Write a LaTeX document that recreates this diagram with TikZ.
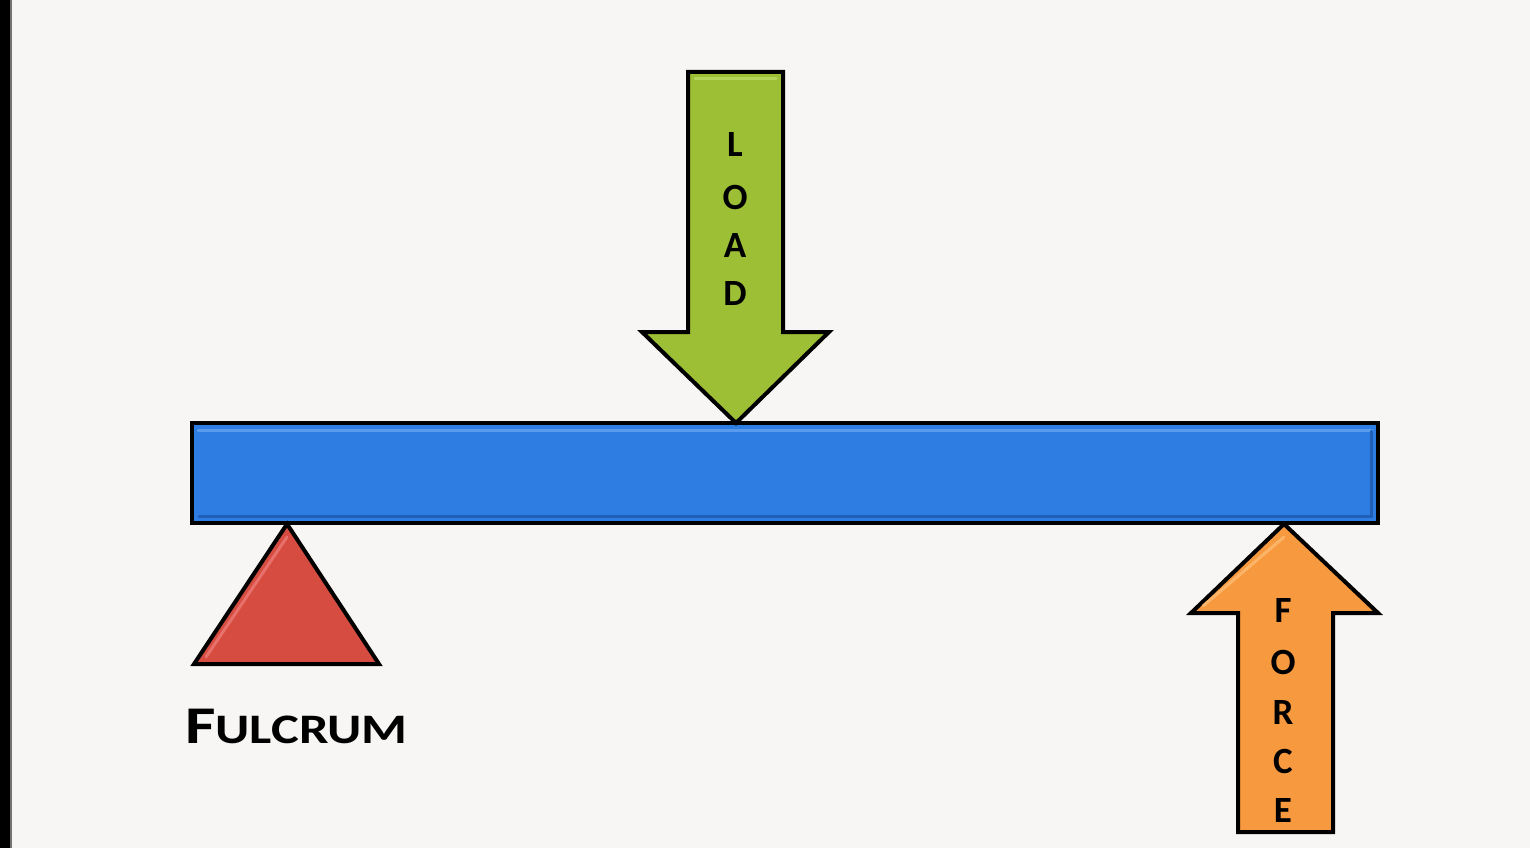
\documentclass[tikz,border=0pt]{standalone}
\usepackage{fontspec}
\setmainfont{Carlito}
\definecolor{bg}{HTML}{F7F6F4}
\definecolor{beamblue}{HTML}{2E7DE2}
\definecolor{beamlight}{HTML}{5A9BEE}
\definecolor{beamdark}{HTML}{1F5FB8}
\definecolor{loadgreen}{HTML}{9DBF35}
\definecolor{loadlight}{HTML}{B5D45A}
\definecolor{fulcred}{HTML}{D64C40}
\definecolor{fulclight}{HTML}{E8706A}
\definecolor{forceorange}{HTML}{F7993F}
\definecolor{forcelight}{HTML}{FBB468}
\begin{document}
\begin{tikzpicture}[x=1pt,y=-1pt,
  solid/.style={line width=4pt, line join=miter, draw=black},
  highlight/.style={line width=3pt, line cap=round},
  letter/.style={font=\bfseries\fontsize{37}{37}\selectfont, inner sep=0pt, text=black}]
\useasboundingbox (0,0) rectangle (1530,848);
\fill[bg] (0,0) rectangle (1530,848);
\fill[black] (0,0) rectangle (10,848);
\fill[black!55] (10,0) rectangle (11.5,848);
% beam
\path[solid, fill=beamblue] (192,423) rectangle (1378,523);
\draw[highlight, beamlight] (198,430) -- (1372,430);
\draw[highlight, beamdark] (1371,431) -- (1371,516) -- (199,516);
% fulcrum
\path[solid, fill=fulcred] (287,524) -- (379,664) -- (194,664) -- cycle;
\draw[highlight, fulclight] (287,537) -- (206,657);
% load arrow
\path[solid, fill=loadgreen] (688,72) -- (783,72) -- (783,332) -- (829,332) -- (736,423) -- (642,332) -- (688,332) -- cycle;
\draw[highlight, loadlight] (695,79) -- (776,79);
% force arrow
\path[solid, fill=forceorange] (1284,524) -- (1378,613) -- (1333,613) -- (1333,832) -- (1238,832) -- (1238,613) -- (1191,613) -- cycle;
\draw[highlight, forcelight] (1284,537) -- (1203,606);
% texts
\foreach \t/\y [count=\i] in {L/145,O/197,A/246,D/294}
  \node[letter] (load\i) at (735,\y) {\t};
\foreach \t/\y [count=\i] in {F/610,O/662,R/712,C/761,E/810}
  \node[letter] (force\i) at (1283,\y) {\t};
\node[anchor=base west, inner sep=0pt] (fulcrum) at (185,743)
  {\scalebox{1.25}[1]{\bfseries{\fontsize{53}{53}\selectfont F}{\fontsize{42}{42}\selectfont ULCRUM}}};
\end{tikzpicture}
\end{document}
